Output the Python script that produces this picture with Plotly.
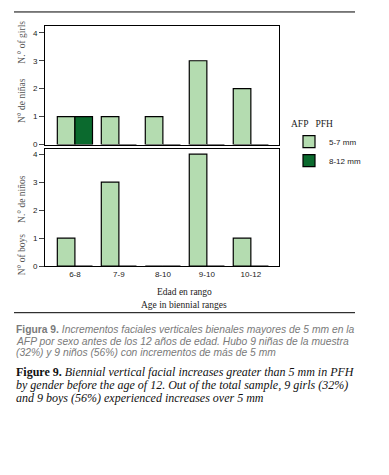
import plotly.graph_objects as go
from plotly.subplots import make_subplots

categories = ["6-8", "7-9", "8-10", "9-10", "10-12"]
girls_5_7 = [1, 1, 1, 3, 2]
girls_8_12 = [1, 0, 0, 0, 0]
boys_5_7 = [1, 3, 0, 4, 1]
boys_8_12 = [0, 0, 0, 0, 0]
series_names = ["5-7 mm", "8-12 mm"]
y_ticks = [0, 1, 2, 3, 4]

OFF = 8  # default page margin around the figure
W, H = 389 - OFF, 475 - OFF
LIGHT = "#b4dcb0"
DARK = "#0b6a2e"

def py(p):
    return 1 - (p - OFF) / H

def px_(x):
    return (x - OFF) / W

fig = make_subplots(rows=2, cols=1)

for row, (a, b) in enumerate([(girls_5_7, girls_8_12), (boys_5_7, boys_8_12)], start=1):
    fig.add_trace(go.Bar(x=categories, y=a, name=series_names[0], marker=dict(color=LIGHT, line=dict(color="black", width=1.2)),
                         showlegend=(row == 1), legendgroup="a"), row=row, col=1)
    fig.add_trace(go.Bar(x=categories, y=b, name=series_names[1], marker=dict(color=DARK, line=dict(color="black", width=1.2)),
                         showlegend=(row == 1), legendgroup="b"), row=row, col=1)

xdom = [px_(45), px_(279)]
fig.update_layout(
    width=W, height=H,
    margin=dict(l=0, r=0, t=0, b=0),
    paper_bgcolor="white", plot_bgcolor="white",
    barmode="group", bargap=0.2, bargroupgap=0,
    font=dict(family="Liberation Sans, Arial, sans-serif", size=8, color="#222"),
    legend=dict(x=px_(289), y=py(116), xanchor="left", yanchor="top",
                title=dict(text="AFP\u00a0\u00a0\u00a0PFH", font=dict(family="Liberation Serif, Times New Roman, serif", size=9.5, color="#222")),
                font=dict(size=8, color="#222"), tracegroupgap=0, itemwidth=30, bgcolor="rgba(0,0,0,0)"),
    xaxis=dict(type="category", domain=xdom, anchor="y", range=[-0.68, 4.64], showticklabels=False, ticks="",
               showline=True, linecolor="black", linewidth=1, mirror=True, showgrid=False),
    yaxis=dict(domain=[py(146), py(26)], anchor="x", range=[0, 4.25], tickvals=y_ticks, ticks="outside", ticklen=5,
               showline=True, linecolor="black", linewidth=1, mirror=True, showgrid=False, zeroline=False,
               tickfont=dict(size=8)),
    xaxis2=dict(type="category", domain=xdom, anchor="y2", range=[-0.68, 4.64], ticks="", tickfont=dict(size=8),
                showline=True, linecolor="black", linewidth=1, mirror=True, showgrid=False),
    yaxis2=dict(domain=[py(269), py(150.7)], anchor="x2", range=[0, 4.18], tickvals=y_ticks, ticks="outside", ticklen=5,
                showline=True, linecolor="black", linewidth=1, mirror=True, showgrid=False, zeroline=False,
                tickfont=dict(size=8)),
)

serif = "Liberation Serif, Times New Roman, serif"
grey_serif = dict(family=serif, size=9.5, color="#555")
ann = []
for text, yc in [("N.° of girls", 43), ("N° de niñas", 102), ("N.° de niños", 201), ("N° of boys", 257)]:
    ann.append(dict(text=text, x=px_(22), y=py(yc), xref="paper", yref="paper", textangle=-90, showarrow=False,
                    font=grey_serif, xanchor="center", yanchor="middle"))
ann.append(dict(text="Edad en rango", x=px_(184), y=py(295), xref="paper", yref="paper", showarrow=False,
                font=dict(family=serif, size=9.5, color="#222")))
ann.append(dict(text="Age in biennial ranges", x=px_(184), y=py(308), xref="paper", yref="paper", showarrow=False,
                font=dict(family=serif, size=9.5, color="#222")))

es_lines = [
    "<b>Figura 9.</b> <i>Incrementos faciales verticales bienales mayores de 5 mm en la</i>",
    "<i>AFP por sexo antes de los 12 años de edad. Hubo 9 niñas de la muestra</i>",
    "<i>(32%) y 9 niños (56%) con incrementos de más de 5 mm</i>",
]
for i, t in enumerate(es_lines):
    ann.append(dict(text=t, x=px_(14), y=py(333 + 11.7 * i), xref="paper", yref="paper", showarrow=False,
                    xanchor="left", yanchor="middle",
                    font=dict(family="Liberation Sans, Arial, sans-serif", size=10.3, color="#7a7a7a")))
en_lines = [
    "<b>Figure 9.</b> <i>Biennial vertical facial increases greater than 5 mm in PFH</i>",
    "<i>by gender before the age of 12. Out of the total sample, 9 girls (32%)</i>",
    "<i>and 9 boys (56%) experienced increases over 5 mm</i>",
]
for i, t in enumerate(en_lines):
    ann.append(dict(text=t, x=px_(14), y=py(376 + 13 * i), xref="paper", yref="paper", showarrow=False,
                    xanchor="left", yanchor="middle",
                    font=dict(family=serif, size=12, color="#111")))
fig.update_layout(annotations=ann)

for yline in [12, 316]:
    fig.add_shape(type="line", xref="paper", yref="paper", x0=px_(14), x1=px_(355), y0=py(yline), y1=py(yline),
                  line=dict(color="black", width=1))

fig.write_html("out.html")
